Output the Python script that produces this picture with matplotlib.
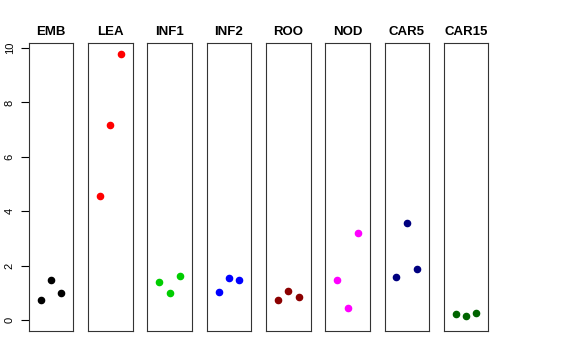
import matplotlib
matplotlib.use('Agg')
import matplotlib.pyplot as plt

plt.rcParams['font.family'] = ['Liberation Sans', 'DejaVu Sans']

# groups and their three values each
groups = ['EMB', 'LEA', 'INF1', 'INF2', 'ROO', 'NOD', 'CAR5', 'CAR15']
emb = [0.76, 1.49, 1.00]
lea = [4.58, 7.17, 9.79]
inf1 = [1.41, 0.99, 1.63]
inf2 = [1.03, 1.54, 1.48]
roo = [0.75, 1.08, 0.84]
nod = [1.47, 0.45, 3.19]
car5 = [1.58, 3.57, 1.87]
car15 = [0.23, 0.16, 0.27]
values = [emb, lea, inf1, inf2, roo, nod, car5, car15]
colors = ['black', 'red', '#00CD00', 'blue', '#8B0000', 'magenta', '#000080', '#006400']
yticks = [0, 2, 4, 6, 8, 10]

fig = plt.figure(figsize=(5.76, 3.6), dpi=100)

left = 28.7 / 576
width = 44.6 / 576
step = 59.3 / 576
bottom = 29 / 360
height = 288 / 360

for i, (name, vals, col) in enumerate(zip(groups, values, colors)):
    ax = fig.add_axes([left + i * step, bottom, width, height])
    ax.scatter([1, 2, 3], vals, s=20, color=col, zorder=3)
    ax.set_xlim(-0.16, 4.16)
    ax.set_ylim(-0.39, 10.18)
    ax.set_xticks([])
    ax.set_title(name, fontsize=9.5, fontweight='bold', pad=6)
    for sp in ax.spines.values():
        sp.set_linewidth(0.8)
        sp.set_color('#333333')
    if i == 0:
        ax.set_yticks(yticks)
        ax.set_yticklabels([str(t) for t in yticks], rotation=90, va='center', fontsize=8)
        ax.tick_params(axis='y', length=6, width=0.8, pad=4)
    else:
        ax.set_yticks([])

fig.savefig('out.png', dpi=100)
